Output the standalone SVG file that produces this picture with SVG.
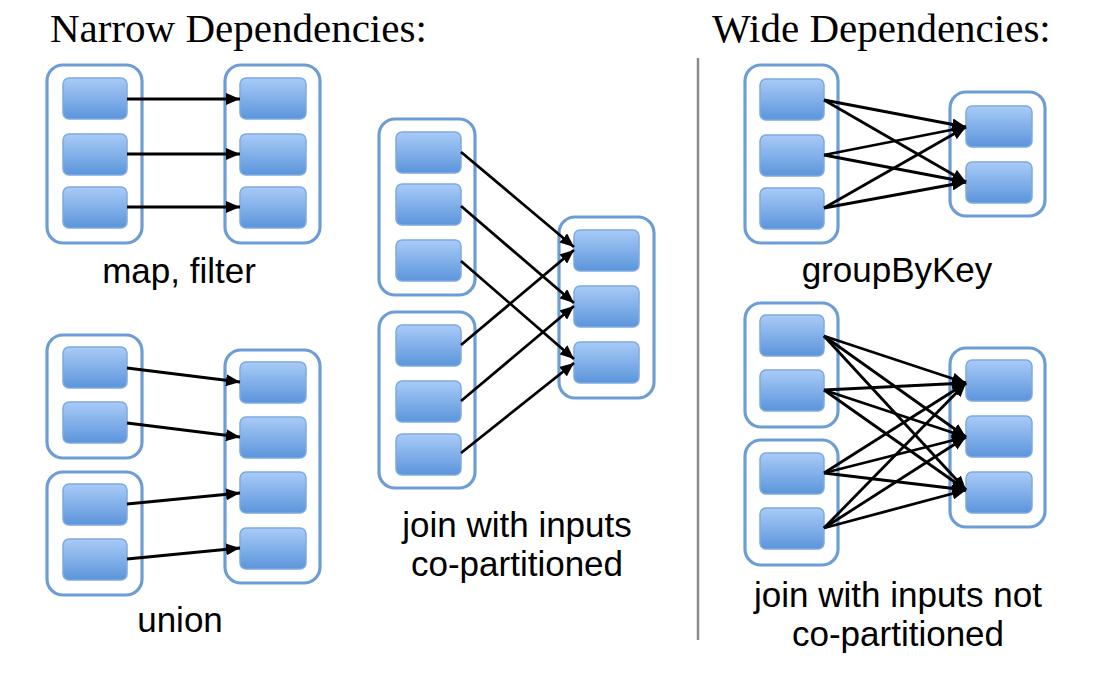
<svg xmlns="http://www.w3.org/2000/svg" width="1098" height="673" viewBox="0 0 1098 673">
<defs>
<linearGradient id="pg" x1="0" y1="0" x2="0" y2="1">
<stop offset="0" stop-color="#a9cbf7"/>
<stop offset="1" stop-color="#5b95db"/>
</linearGradient>
<marker id="ah" markerUnits="userSpaceOnUse" markerWidth="14" markerHeight="12" refX="14" refY="6" orient="auto">
<path d="M0,0 L14,6 L0,12 z" fill="#000"/>
</marker>
<style>
.c{fill:#fff;stroke:#6c9dd4;stroke-width:3.2}
.p{fill:url(#pg);stroke:#7eaadf;stroke-width:1.5}
.a{stroke:#000;stroke-width:2.8;fill:none;marker-end:url(#ah)}
.t{font-family:"Liberation Serif",serif;font-size:41px;fill:#000}
.l{font-family:"Liberation Sans",Arial,sans-serif;font-size:35px;fill:#000;text-anchor:middle}
</style>
</defs>
<rect width="1098" height="673" fill="#fff"/>
<text class="t" x="50" y="42">Narrow Dependencies:</text>
<text class="t" x="712" y="42">Wide Dependencies:</text>
<line x1="698" y1="58" x2="698" y2="640" stroke="#8c8c8c" stroke-width="2.5"/>

<g id="mapfilter-src">
<rect class="c" x="47" y="65" width="95" height="178" rx="16"/>
<rect class="p" x="63" y="78" width="64" height="41" rx="6"/>
<rect class="p" x="63" y="134" width="64" height="41" rx="6"/>
<rect class="p" x="63" y="187" width="64" height="41" rx="6"/>
</g>
<g id="mapfilter-dst">
<rect class="c" x="225" y="65" width="95" height="178" rx="16"/>
<rect class="p" x="240" y="78" width="66" height="41" rx="6"/>
<rect class="p" x="240" y="134" width="66" height="41" rx="6"/>
<rect class="p" x="240" y="187" width="66" height="41" rx="6"/>
</g>
<text class="l" x="179" y="283">map, filter</text>

<g id="union-src1">
<rect class="c" x="47" y="335" width="95" height="123" rx="16"/>
<rect class="p" x="63" y="347" width="64" height="41" rx="6"/>
<rect class="p" x="63" y="402" width="64" height="41" rx="6"/>
</g>
<g id="union-src2">
<rect class="c" x="47" y="472" width="95" height="123" rx="16"/>
<rect class="p" x="63" y="484" width="64" height="41" rx="6"/>
<rect class="p" x="63" y="539" width="64" height="41" rx="6"/>
</g>
<g id="union-dst">
<rect class="c" x="225" y="350" width="95" height="233" rx="16"/>
<rect class="p" x="240" y="362" width="66" height="41" rx="6"/>
<rect class="p" x="240" y="417" width="66" height="41" rx="6"/>
<rect class="p" x="240" y="472" width="66" height="41" rx="6"/>
<rect class="p" x="240" y="528" width="66" height="41" rx="6"/>
</g>
<text class="l" x="180" y="632">union</text>

<g id="join-co-src1">
<rect class="c" x="379" y="119" width="96" height="176" rx="16"/>
<rect class="p" x="396" y="132" width="65" height="41" rx="6"/>
<rect class="p" x="396" y="184" width="65" height="41" rx="6"/>
<rect class="p" x="396" y="240" width="65" height="41" rx="6"/>
</g>
<g id="join-co-src2">
<rect class="c" x="379" y="312" width="96" height="176" rx="16"/>
<rect class="p" x="396" y="325" width="65" height="41" rx="6"/>
<rect class="p" x="396" y="381" width="65" height="41" rx="6"/>
<rect class="p" x="396" y="434" width="65" height="41" rx="6"/>
</g>
<g id="join-co-dst">
<rect class="c" x="559" y="217" width="95" height="181" rx="16"/>
<rect class="p" x="574" y="230" width="65" height="41" rx="6"/>
<rect class="p" x="574" y="286" width="65" height="41" rx="6"/>
<rect class="p" x="574" y="342" width="65" height="41" rx="6"/>
</g>
<text class="l" x="517" y="537">join with inputs</text>
<text class="l" x="517" y="576">co-partitioned</text>

<g id="groupbykey-src">
<rect class="c" x="745" y="65" width="93" height="178" rx="16"/>
<rect class="p" x="760" y="79" width="64" height="41" rx="6"/>
<rect class="p" x="760" y="135" width="64" height="41" rx="6"/>
<rect class="p" x="760" y="188" width="64" height="41" rx="6"/>
</g>
<g id="groupbykey-dst">
<rect class="c" x="950" y="92" width="95" height="124" rx="16"/>
<rect class="p" x="966" y="106" width="66" height="41" rx="6"/>
<rect class="p" x="966" y="162" width="66" height="41" rx="6"/>
</g>
<text class="l" x="897" y="282">groupByKey</text>

<g id="join-nco-src1">
<rect class="c" x="745" y="303" width="93" height="124" rx="16"/>
<rect class="p" x="760" y="315" width="64" height="41" rx="6"/>
<rect class="p" x="760" y="370" width="64" height="41" rx="6"/>
</g>
<g id="join-nco-src2">
<rect class="c" x="745" y="440" width="93" height="125" rx="16"/>
<rect class="p" x="760" y="453" width="64" height="41" rx="6"/>
<rect class="p" x="760" y="508" width="64" height="41" rx="6"/>
</g>
<g id="join-nco-dst">
<rect class="c" x="950" y="348" width="95" height="179" rx="16"/>
<rect class="p" x="966" y="360" width="66" height="41" rx="6"/>
<rect class="p" x="966" y="416" width="66" height="41" rx="6"/>
<rect class="p" x="966" y="472" width="66" height="41" rx="6"/>
</g>
<text class="l" x="898" y="607">join with inputs not</text>
<text class="l" x="898" y="646">co-partitioned</text>

<g id="connectors">
<line class="a" x1="127" y1="99" x2="240" y2="99"/>
<line class="a" x1="127" y1="154" x2="240" y2="154"/>
<line class="a" x1="127" y1="207" x2="240" y2="207"/>

<line class="a" x1="127" y1="368" x2="240" y2="382"/>
<line class="a" x1="127" y1="423" x2="240" y2="437"/>
<line class="a" x1="127" y1="504" x2="240" y2="493"/>
<line class="a" x1="127" y1="559" x2="240" y2="548"/>

<line class="a" x1="461" y1="152" x2="574" y2="247"/>
<line class="a" x1="461" y1="206" x2="574" y2="303"/>
<line class="a" x1="461" y1="261" x2="574" y2="359"/>
<line class="a" x1="461" y1="345" x2="574" y2="250"/>
<line class="a" x1="461" y1="401" x2="574" y2="306"/>
<line class="a" x1="461" y1="453" x2="574" y2="363"/>

<line class="a" x1="824" y1="100" x2="966" y2="127"/>
<line class="a" x1="824" y1="100" x2="966" y2="182"/>
<line class="a" x1="824" y1="155" x2="966" y2="127"/>
<line class="a" x1="824" y1="155" x2="966" y2="182"/>
<line class="a" x1="824" y1="208" x2="966" y2="127"/>
<line class="a" x1="824" y1="208" x2="966" y2="182"/>

<line class="a" x1="824" y1="336" x2="966" y2="383"/>
<line class="a" x1="824" y1="336" x2="966" y2="437"/>
<line class="a" x1="824" y1="336" x2="966" y2="490"/>
<line class="a" x1="824" y1="390" x2="966" y2="383"/>
<line class="a" x1="824" y1="390" x2="966" y2="437"/>
<line class="a" x1="824" y1="390" x2="966" y2="490"/>
<line class="a" x1="824" y1="473" x2="966" y2="383"/>
<line class="a" x1="824" y1="473" x2="966" y2="437"/>
<line class="a" x1="824" y1="473" x2="966" y2="490"/>
<line class="a" x1="824" y1="528" x2="966" y2="383"/>
<line class="a" x1="824" y1="528" x2="966" y2="437"/>
<line class="a" x1="824" y1="528" x2="966" y2="490"/>
</g>
</svg>
